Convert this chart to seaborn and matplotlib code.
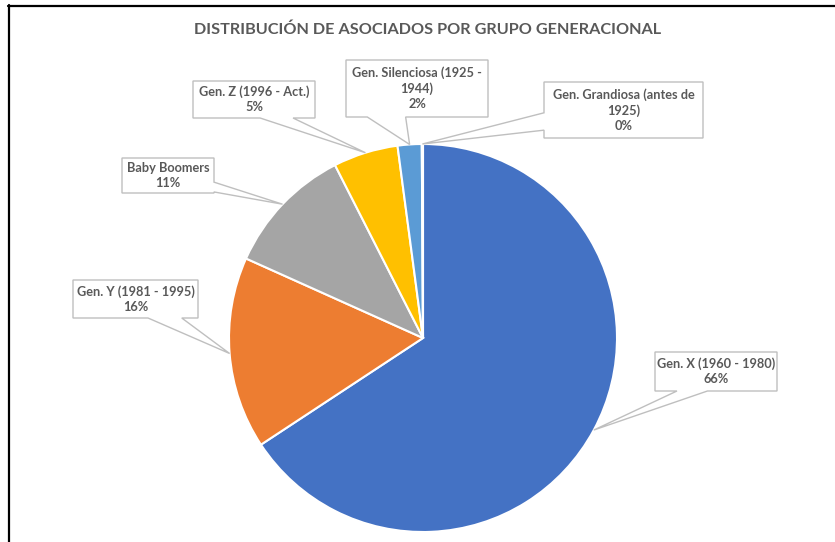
import matplotlib
matplotlib.use("Agg")
import matplotlib.pyplot as plt
from matplotlib.patches import Polygon
from matplotlib.lines import Line2D
import numpy as np
import seaborn as sns

# datos
grupos = ['Gen. X (1960 - 1980)', 'Gen. Y (1981 - 1995)', 'Baby Boomers',
          'Gen. Z (1996 - Act.)', 'Gen. Silenciosa (1925 -\n1944)',
          'Gen. Grandiosa (antes de\n1925)']
valores = [65.8, 16.0, 10.8, 5.4, 2.0, 0.1]
colores = ['#4472C4', '#ED7D31', '#A5A5A5', '#FFC000', '#5B9BD5', '#70AD47']

# cajas de las etiquetas (x0, y0, x1, y1 en pixeles, y hacia abajo)
cajas = [(655, 352, 777, 391), (73, 280, 198, 318), (122, 158, 214, 193),
         (193, 81, 315, 118), (346, 60, 488, 117), (544, 82, 703, 138)]
# lado del puntero y fracciones de la base
punteros = [('bottom', 0.18, 0.43), ('bottom', 0.60, 0.87), ('right', 0.69, 0.97),
            ('bottom', 0.55, 0.82), ('bottom', 0.15, 0.42), ('left', 0.55, 0.86)]

W, H = 835, 542
sns.set_theme(style="white")
plt.rcParams['font.family'] = ['Lato', 'DejaVu Sans']
gris = '#595959'

fig = plt.figure(figsize=(W / 100, H / 100), dpi=100)
ax = fig.add_axes([0, 0, 1, 1])
ax.axis('off')

centro = (423, H - 338)
radio = 194
wedges, _ = ax.pie(valores, colors=colores, startangle=90, counterclock=False,
                   center=centro, radius=radio,
                   wedgeprops=dict(edgecolor='white', linewidth=1.5))
ax.set_xlim(0, W)
ax.set_ylim(0, H)
ax.set_aspect('auto')

total = sum(valores)


def callout(caja, puntero, tip):
    x0, y0, x1, y1 = caja
    w, h = x1 - x0, y1 - y0
    lado, f1, f2 = puntero
    pts = [(x0, y0), (x1, y0)]
    if lado == 'right':
        pts += [(x1, y0 + f1 * h), tip, (x1, y0 + f2 * h)]
    pts.append((x1, y1))
    if lado == 'bottom':
        pts += [(x0 + f2 * w, y1), tip, (x0 + f1 * w, y1)]
    pts.append((x0, y1))
    if lado == 'left':
        pts += [(x0, y0 + f2 * h), tip, (x0, y0 + f1 * h)]
    pts = [(px, H - py) for px, py in pts]
    ax.add_patch(Polygon(pts, closed=True, facecolor='white', edgecolor='#BFBFBF',
                         linewidth=1, zorder=3))


for wg, nombre, v, caja, puntero in zip(wedges, grupos, valores, cajas, punteros):
    ang = np.deg2rad((wg.theta1 + wg.theta2) / 2)
    tip = (centro[0] + radio * np.cos(ang), H - (centro[1] + radio * np.sin(ang)))
    callout(caja, puntero, tip)
    cx = (caja[0] + caja[2]) / 2
    cy = (caja[1] + caja[3]) / 2
    ax.text(cx, H - cy, f"{nombre}\n{v / total * 100:.0f}%", ha='center', va='center',
            fontsize=9.2, fontweight='bold', color=gris, linespacing=1.3, zorder=4)

fig.text(428 / W, 1 - 30 / H, 'DISTRIBUCIÓN DE ASOCIADOS POR GRUPO GENERACIONAL',
         ha='center', va='center', fontsize=11.7, fontweight='bold', color=gris)

# marco negro (izquierda y arriba)
fig.add_artist(Line2D([8 / W, 1], [1 - 6 / H, 1 - 6 / H], color='black', linewidth=1.6,
                      transform=fig.transFigure))
fig.add_artist(Line2D([9 / W, 9 / W], [0, 1 - 5 / H], color='black', linewidth=1.6,
                      transform=fig.transFigure))

fig.savefig('out.png', dpi=100)
